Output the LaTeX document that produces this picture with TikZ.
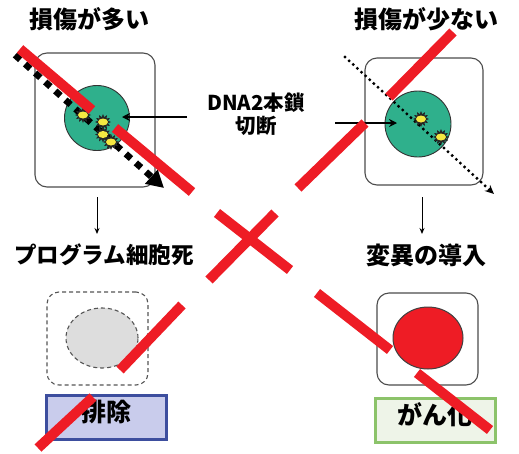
\documentclass[tikz,border=0pt]{standalone}
\usepackage{fontspec}
\setmainfont{Noto Sans CJK JP}
\usetikzlibrary{arrows.meta,shapes.geometric}

\definecolor{strikered}{HTML}{EE1C25}
\definecolor{nucleusgreen}{HTML}{2FB08C}
\definecolor{spotyellow}{HTML}{F4E842}
\definecolor{removefill}{HTML}{C9CCEC}
\definecolor{removeedge}{HTML}{3D4E9E}
\definecolor{cancerfill}{HTML}{EEF4E8}
\definecolor{canceredge}{HTML}{8CC36A}
\definecolor{deadfill}{HTML}{DDDDDD}
\definecolor{deadedge}{HTML}{555555}

\tikzset{
  cellbox/.style={draw=black!70, line width=1.1pt, rounded corners=12pt, fill=white},
  deadcell/.style={draw=deadedge, line width=1.1pt, dash pattern=on 4pt off 3pt, rounded corners=12pt},
  nucleus/.style={circle, draw=black!80, line width=0.9pt, fill=nucleusgreen, inner sep=0},
  heading/.style={font=\bfseries\fontsize{24}{24}\selectfont, inner sep=0, text height=0.76em, text depth=0pt},
  tag/.style={font=\bfseries\fontsize{20.5}{20.5}\selectfont, inner sep=0, text height=0.76em, text depth=0pt},
  outcome/.style={font=\bfseries\fontsize{25}{25}\selectfont, text height=0.76em, text depth=0pt,
    minimum width=120pt, minimum height=44pt, line width=3pt},
  bigtrack/.style={line width=6.5pt, dash pattern=on 7pt off 6.5pt, -{Triangle[length=17pt,width=18pt]}},
  smalltrack/.style={line width=3.3pt, line cap=round, dash pattern=on 0pt off 5.6pt, -{Stealth[length=9pt,width=8pt]}},
  pointer/.style={line width=2pt, -{Stealth[length=8pt,width=8pt]}},
  downarrow/.style={line width=1pt, -{Stealth[length=6pt,width=5pt]}},
  strike/.style={strikered, line width=10pt},
  spot/.pic={
    \node[star, star points=12, star point ratio=1.6, fill=black!85, inner sep=0, minimum size=16pt] (-halo) {};
    \node[ellipse, fill=spotyellow, inner sep=0, minimum width=10pt, minimum height=7pt] (-core) {};
  }
}

\begin{document}
\begin{tikzpicture}[x=1pt, y=-1pt]
\useasboundingbox[fill=white] (0,0) rectangle (519,453);

% headings
\node[heading] (hL) at (89,25) {損傷が多い};
\node[heading] (hR) at (426,25) {損傷が少ない};

% cells hit by radiation
\node[cellbox, minimum width=120pt, minimum height=134pt] (cellL) at (95,120) {};
\node[cellbox, minimum width=118pt, minimum height=127pt] (cellR) at (424,121.5) {};
\node[nucleus, minimum size=65pt] (nucL) at (97,118) {};
\node[nucleus, minimum size=66pt] (nucR) at (418,124) {};

% particle tracks
\coordinate (trackLs) at (15,55);
\coordinate (trackLe) at (164,188);
\coordinate (trackRs) at (345,57);
\coordinate (trackRe) at (494,194);
\draw[bigtrack] (trackLs) -- (trackLe);
\draw[smalltrack] (trackRs) -- (trackRe);

% double-strand breaks
\pic (bL1) at (83,115) {spot};
\pic (bL2) at (103,122) {spot};
\pic (bL3) at (103,134.5) {spot};
\pic (bL4) at (111,142) {spot};
\pic (bR1) at (421,119) {spot};
\pic (bR2) at (441,137) {spot};

% label for the breaks
\node[tag] (dna) at (256,107) {DNA2本鎖};
\node[tag] (cut) at (256,130) {切断};
\coordinate (ptrL) at (187,117);
\coordinate (ptrR) at (335,123);
\draw[pointer, shorten >=25pt] (ptrL) -- (nucL.center |- ptrL);
\draw[pointer, shorten >=21pt] (ptrR) -- (nucR.center |- ptrR);

% fates
\coordinate (dL1) at (97,197);
\coordinate (dL2) at (97,234);
\coordinate (dR1) at (422,197);
\coordinate (dR2) at (422,234);
\draw[downarrow] (dL1) -- (dL2);
\draw[downarrow] (dR1) -- (dR2);
\node[heading, font=\bfseries\fontsize{22.5}{22.5}\selectfont] (pcd) at (104,260) {プログラム細胞死};
\node[heading] (mut) at (426,261) {変異の導入};

% resulting cells
\node[deadcell, minimum width=101pt, minimum height=93pt] (deadL) at (97.5,338.5) {};
\node[ellipse, draw=deadedge, line width=1.1pt, dash pattern=on 4pt off 3pt, fill=deadfill,
      inner sep=0, minimum width=72pt, minimum height=60pt] (ghost) at (102,338) {};
\node[cellbox, minimum width=101pt, minimum height=92pt] (cellC) at (427.5,339) {};
\node[ellipse, draw=black!75, line width=1pt, fill=strikered, inner sep=0,
      minimum width=70pt, minimum height=62pt] (tumor) at (428,338) {};

% outcome boxes
\node[outcome, draw=removeedge, fill=removefill] (remove) at (106,417.5) {排除};
\node[outcome, draw=canceredge, fill=cancerfill] (cancer) at (435,420.5) {がん化};

% the big cross, interrupted where it passes labels and shapes
\draw[strike] (20,49) -- (92,110);
\draw[strike] (115,128) -- (192,192);
\draw[strike] (217,213) -- (290,270);
\draw[strike] (317,293) -- (390,350);
\draw[strike] (417,373) -- (490,430);
\draw[strike] (453,32) -- (389,97);
\draw[strike] (365,123) -- (298,188);
\draw[strike] (275,213) -- (209,280);
\draw[strike] (182,305) -- (120,370);
\draw[strike] (93,397) -- (38,448);
\end{tikzpicture}
\end{document}
